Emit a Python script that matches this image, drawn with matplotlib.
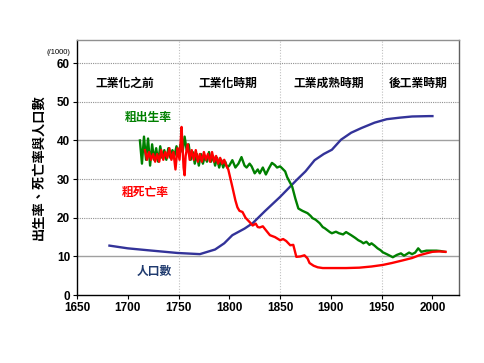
import matplotlib
matplotlib.use("Agg")
import matplotlib.pyplot as plt
import numpy as np

plt.rcParams["font.family"] = ["Noto Sans CJK TC", "DejaVu Sans"]

# population (same axis, tens of millions scale as drawn)
pop_years = [1682, 1700, 1720, 1749, 1771, 1786, 1795, 1803, 1815, 1823, 1835,
             1850, 1866, 1875, 1884, 1893, 1901, 1910, 1920, 1930, 1943, 1955,
             1968, 1980, 1997, 2000]
pop_vals = [12.8, 12.1, 11.6, 10.9, 10.6, 11.8, 13.4, 15.5, 17.2, 18.6, 21.7,
            25.4, 29.7, 32.0, 34.9, 36.5, 37.6, 40.2, 42.0, 43.2, 44.6, 45.5,
            45.9, 46.2, 46.3, 46.3]

# crude birth rate (per 1000)
birth_years = list(range(1712, 1801, 2)) + [
    1803, 1806, 1809, 1812, 1815, 1817, 1820, 1822, 1825, 1828, 1830, 1833,
    1836, 1839, 1842, 1845, 1847, 1850, 1852, 1855, 1857, 1860, 1862, 1865,
    1868, 1872, 1877, 1880, 1882, 1885, 1889, 1892, 1894, 1899, 1901, 1905,
    1908, 1912, 1915, 1920, 1924, 1927, 1930, 1932, 1935, 1938, 1940, 1943,
    1946, 1949, 1951, 1955, 1958, 1961, 1965, 1969, 1972, 1974, 1977, 1980,
    1983, 1986, 1989, 1994, 2000, 2004, 2008, 2012]
birth_vals = [
    40, 34, 41, 35, 40.5, 33.5, 39, 35, 38, 34.5, 38.5, 35.5, 37.5, 35, 38,
    35.5, 37.5, 36, 38.5, 36.5, 39, 37, 41, 37.5, 39, 35, 37, 34, 36.5, 33.5,
    36.5, 34, 36, 34.5, 37, 34.5, 36, 33.5, 35.5, 33, 35, 33, 34.5, 33, 33.5,
    34.9, 33.0, 34.0, 35.7, 33.5, 33.0, 34.0, 33.3, 31.5, 32.5, 31.5, 33.0,
    31.2, 32.8, 34.2, 33.6, 33.0, 33.3, 32.8, 32.0, 30.5, 29.0, 28.0, 25.0,
    22.4, 21.8, 21.2, 20.5, 19.9, 19.5, 18.6, 17.6, 17.3, 16.3, 16.0, 16.4,
    16.0, 15.7, 16.3, 15.5, 14.8, 14.2, 13.8, 13.4, 13.8, 13.0, 13.4, 12.8,
    12.1, 11.6, 11.1, 10.6, 10.2, 9.8, 10.4, 10.8, 10.2, 10.5, 11.0, 10.6,
    11.0, 12.1, 11.2, 11.5, 11.5, 11.5, 11.4, 11.2]

# crude death rate (per 1000)
death_years = [
    1717, 1719, 1721, 1723, 1725, 1727, 1729, 1731, 1733, 1735, 1737, 1739,
    1741, 1743, 1745, 1747, 1749, 1751, 1752, 1753, 1754, 1755, 1756, 1757,
    1759, 1761, 1763, 1765, 1767, 1769, 1771, 1773, 1775, 1777, 1779, 1781,
    1783, 1785, 1787, 1789, 1791, 1793, 1795, 1797, 1799,
    1803, 1806, 1808, 1810, 1813, 1816, 1820, 1823, 1826, 1828, 1830, 1833,
    1836, 1840, 1845, 1850, 1853, 1856, 1860, 1863, 1866, 1870, 1874, 1877,
    1879, 1883, 1887, 1892, 1902, 1915, 1928, 1940, 1951, 1960, 1971, 1980,
    1987, 1994, 2000, 2007, 2013]
death_vals = [
    37.5, 35, 37, 35, 36.5, 34.5, 36.5, 34.5, 37.5, 35, 37, 35.5,
    38, 35, 37, 32.5, 38, 35, 39, 43.5, 38, 33, 31, 36,
    39, 35, 37.5, 35, 37.5, 34.5, 36.5, 34.5, 37, 35, 36.5, 34.5,
    37, 34.5, 36, 34, 35.5, 34, 35, 33.5, 32.5,
    28.0, 24.5, 22.7, 21.8, 21.5, 20.0, 18.9, 18.0, 18.5, 17.6, 17.5, 17.8,
    16.8, 15.5, 15.0, 14.2, 14.5, 14.0, 12.9, 13.0, 9.9, 10.0, 10.3, 9.5,
    8.3, 7.6, 7.2, 7.0, 7.0, 7.0, 7.1, 7.4, 7.8, 8.3, 9.0, 9.6, 10.3, 10.8,
    11.2, 11.3, 11.2]

periods = ["工業化之前", "工業化時期", "工業成熟時期", "後工業時期"]
period_x = [1697, 1799, 1898, 1986]

fig = plt.figure(figsize=(4.84, 3.63), dpi=100)
ax = fig.add_axes([0.159, 0.187, 0.789, 0.703])

for y in [10, 20, 30, 40, 50, 60]:
    if y in (10, 40):
        ax.axhline(y, color="#a0a0a0", lw=1.0, zorder=0)
    else:
        ax.axhline(y, color="#909090", lw=0.8, ls=(0, (1, 1)), zorder=0)
for x in [1750, 1850, 1950]:
    ax.axvline(x, color="#c0c0c0", lw=0.8, ls=(0, (1, 1.5)), zorder=0)

ax.plot(pop_years, pop_vals, color="#333399", lw=1.7)
ax.plot(birth_years, birth_vals, color="#008000", lw=1.7)
ax.plot(death_years, death_vals, color="#ff0000", lw=1.7)

ax.set_xlim(1650, 2026)
ax.set_ylim(0, 66)
ax.set_xticks(np.arange(1650, 2001, 50))
ax.set_yticks(np.arange(0, 61, 10))
for lab in ax.get_xticklabels() + ax.get_yticklabels():
    lab.set_family("Liberation Sans")
    lab.set_fontweight("bold")
    lab.set_fontsize(8.5)
ax.tick_params(axis="both", length=3, width=0.8, direction="out", pad=2)

ax.spines["left"].set_color("black")
ax.spines["bottom"].set_color("black")
ax.spines["top"].set_color("#909090")
ax.spines["right"].set_color("#606060")
for s in ax.spines.values():
    s.set_linewidth(1.0)

for name, xp in zip(periods, period_x):
    ax.text(xp, 54.8, name, ha="center", va="center", fontsize=8.5,
            fontweight="bold", color="black")

ax.text(1720, 46, "粗出生率", ha="center", va="center", fontsize=8.5,
        fontweight="bold", color="#008000")
ax.text(1717, 26.6, "粗死亡率", ha="center", va="center", fontsize=8.5,
        fontweight="bold", color="#ff0000")
ax.text(1726, 6, "人口數", ha="center", va="center", fontsize=8.5,
        fontweight="bold", color="#1f3a6e")

ax.set_ylabel("出生率、死亡率與人口數", fontsize=9.5, fontweight="bold",
              labelpad=8)
fig.text(0.12, 0.856, "(/1000)", ha="center", va="center", fontsize=5.5,
         family="Liberation Sans")

fig.savefig("out.png", dpi=100)
